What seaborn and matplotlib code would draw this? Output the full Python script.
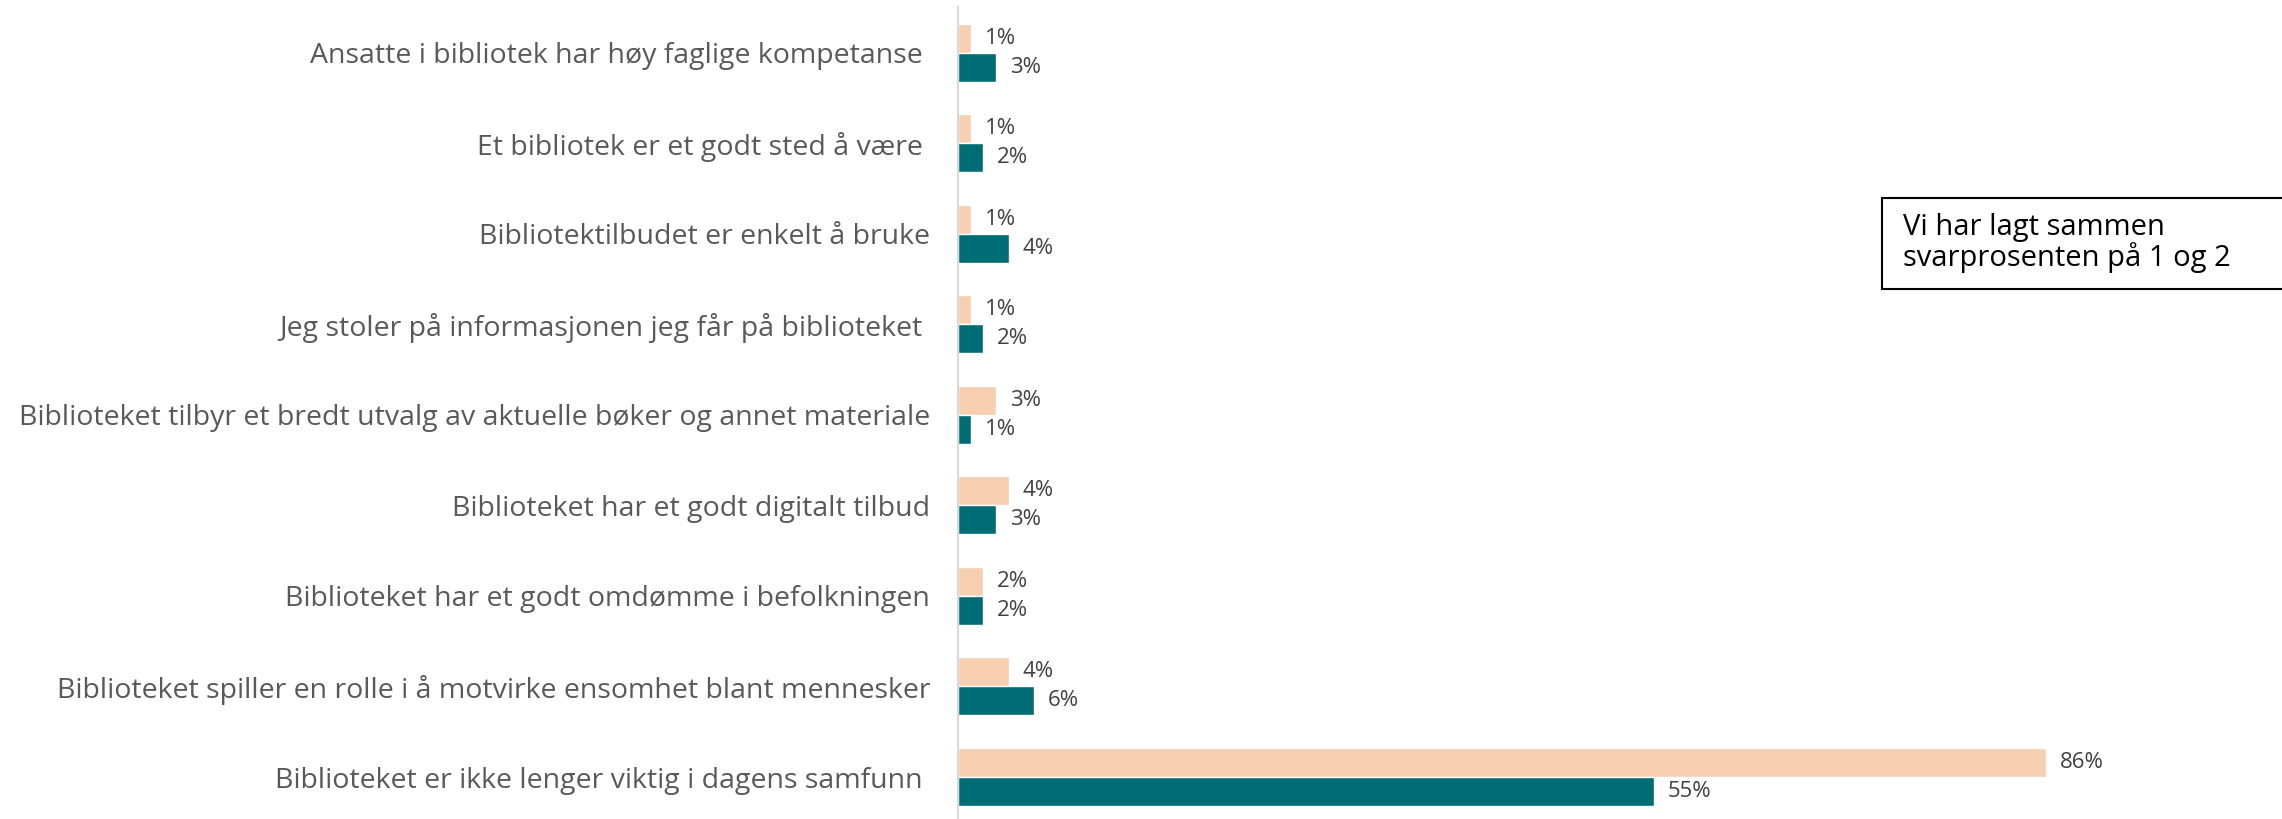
import pandas as pd
import numpy as np
import matplotlib.pyplot as plt
import seaborn as sns
from matplotlib.patches import Rectangle

categories = [
    "Ansatte i bibliotek har høy faglige kompetanse ",
    "Et bibliotek er et godt sted å være ",
    "Bibliotektilbudet er enkelt å bruke",
    "Jeg stoler på informasjonen jeg får på biblioteket ",
    "Biblioteket tilbyr et bredt utvalg av aktuelle bøker og annet materiale",
    "Biblioteket har et godt digitalt tilbud",
    "Biblioteket har et godt omdømme i befolkningen",
    "Biblioteket spiller en rolle i å motvirke ensomhet blant mennesker",
    "Biblioteket er ikke lenger viktig i dagens samfunn ",
]
series_names = ["Serie 1", "Serie 2"]
serie1 = [1, 1, 1, 1, 3, 4, 2, 4, 86]
serie2 = [3, 2, 4, 2, 1, 3, 2, 6, 55]
note_text = "Vi har lagt sammen\nsvarprosenten på 1 og 2"

colors = ["#F6CFB0", "#006D75"]

df = pd.DataFrame({
    "kategori": categories * 2,
    "serie": [series_names[0]] * len(categories) + [series_names[1]] * len(categories),
    "verdi": serie1 + serie2,
})

sns.set_style("white")
plt.rcParams['font.family'] = ['Open Sans', 'DejaVu Sans']

fig = plt.figure(figsize=(22.82, 8.19), dpi=100)
ax = fig.add_axes([958 / 2282, -0.004, 0.57, 0.995])

sns.barplot(data=df, y="kategori", x="verdi", hue="serie", order=categories,
            hue_order=series_names, palette=colors, orient="h", width=0.64,
            saturation=1, legend=False, ax=ax)

for cont in ax.containers:
    ax.bar_label(cont, labels=[f"{int(round(v))}%" for v in cont.datavalues],
                 padding=10, fontsize=16, color="#404040")

ax.set_xlim(0, 1301 / 12.65)
ax.set_ylim(8.5, -0.5)
ax.set_xlabel("")
ax.set_ylabel("")
ax.set_xticks([])
ax.tick_params(axis="y", length=0, pad=20, labelsize=20.5, labelcolor="#595959")
for s in ["top", "right", "bottom"]:
    ax.spines[s].set_visible(False)
ax.spines["left"].set_color("#D9D9D9")
ax.spines["left"].set_linewidth(1.5)

# tekstboks
x0, y0 = 1882 / 2282, 1 - 289 / 819
w, h = (2290 - 1882) / 2282, (289 - 198) / 819
fig.patches.append(Rectangle((x0, y0), w, h, transform=fig.transFigure,
                             facecolor="white", edgecolor="black", linewidth=1.5))
fig.text(1903 / 2282, 1 - 243 / 819, note_text, fontsize=21, color="black",
         va="center", ha="left", linespacing=1.0)

fig.savefig("out.png", dpi=100)
